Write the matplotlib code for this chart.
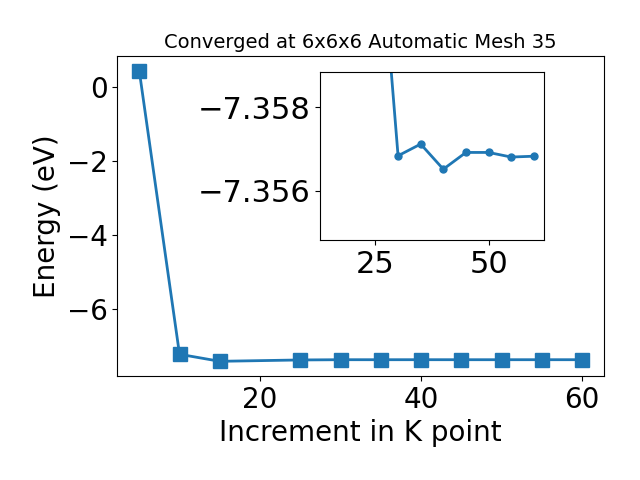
import matplotlib.pyplot as plt

kpoints = [5, 10, 15, 25, 30, 35, 40, 45, 50, 55, 60]
energy = [0.435, -7.21, -7.40, -7.3635, -7.35684, -7.35712, -7.35652,
          -7.35692, -7.35692, -7.35681, -7.35683]

fig = plt.figure(figsize=(6.4, 4.8), dpi=100)
ax = fig.add_axes([0.183, 0.217, 0.761, 0.666])
ax.plot(kpoints, energy, marker="s", markersize=10, linewidth=2)
ax.set_xlabel("Increment in K point", fontsize=20)
ax.set_ylabel("Energy (eV)", fontsize=20)
ax.set_title("Converged at 6x6x6 Automatic Mesh 35", fontsize=14)
ax.tick_params(labelsize=20)

# zoomed view of the converged tail
inset = fig.add_axes([0.5, 0.5, 0.35, 0.35])
inset.plot(kpoints[2:], energy[2:], marker="o", markersize=5, linewidth=2)
inset.set_ylim(-7.35483, -7.35884)
inset.set_yticks([-7.358, -7.356])
inset.set_xticks([25, 50])
inset.tick_params(labelsize=22)

fig.savefig("out.png", dpi=100)
